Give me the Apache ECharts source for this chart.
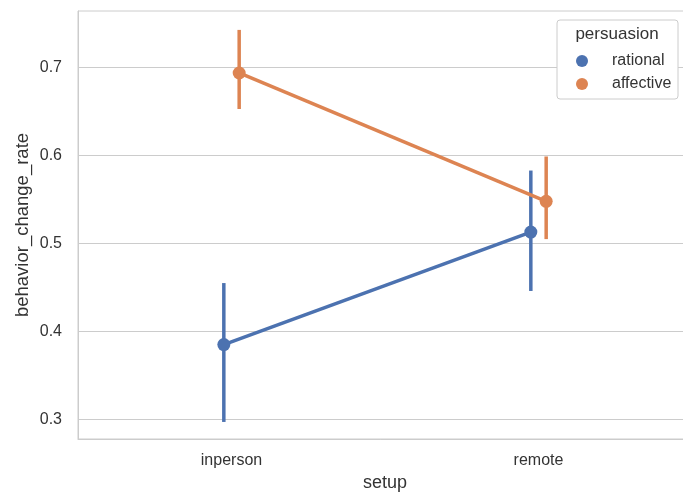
<!DOCTYPE html>
<html>
<head>
<meta charset="utf-8">
<script src="https://cdn.jsdelivr.net/npm/echarts@6/dist/echarts.min.js"></script>
<style>html,body{margin:0;padding:0;background:#fff}#c{width:683px;height:492px}</style>
</head>
<body>
<div id="c"></div>
<script>
const categories = ['inperson', 'remote'];
const hueNames = ['rational', 'affective'];
const rationalMean = [0.385, 0.513];
const rationalLow = [0.297, 0.446];
const rationalHigh = [0.455, 0.583];
const affectiveMean = [0.694, 0.548];
const affectiveLow = [0.653, 0.505];
const affectiveHigh = [0.743, 0.599];
const yTicks = [0.3, 0.4, 0.5, 0.6, 0.7];

const colors = ['#4c72b0', '#dd8452'];
const dodge = [-0.025, 0.025];
const font = 'Liberation Sans';
const textColor = '#333333';

function lineData(mean, off) { return categories.map((c, i) => [i + off, mean[i]]); }
function ciData(lo, hi, off) { return categories.map((c, i) => [i + off, lo[i], hi[i]]); }
function ciSeries(name, lo, hi, off, color) {
  return {
    name: name, type: 'custom', z: 2,
    data: ciData(lo, hi, off),
    encode: { x: 0, y: [1, 2] },
    renderItem: function (params, api) {
      const p1 = api.coord([api.value(0), api.value(1)]);
      const p2 = api.coord([api.value(0), api.value(2)]);
      return { type: 'line', shape: { x1: p1[0], y1: p1[1], x2: p2[0], y2: p2[1] },
        style: { stroke: color, lineWidth: 3.5 } };
    },
    silent: true
  };
}
function lineSeries(name, mean, off, color) {
  return {
    name: name, type: 'line', z: 3,
    data: lineData(mean, off),
    symbol: 'circle', symbolSize: 13,
    itemStyle: { color: color },
    lineStyle: { color: color, width: 3.5 },
    animation: false
  };
}

const chart = echarts.init(document.getElementById('c'), null, { renderer: 'canvas' });
chart.setOption({
  animation: false,
  backgroundColor: '#ffffff',
  textStyle: { fontFamily: font },
  grid: { left: 78, top: 11, width: 614, height: 428, containLabel: false, outerBoundsMode: 'none',
    show: true, borderColor: '#cccccc', borderWidth: 1 },
  xAxis: {
    type: 'value', min: -0.5, max: 1.5, interval: 0.5,
    name: 'setup', nameLocation: 'middle', nameGap: 35, nameMoveOverlap: false,
    nameTextStyle: { fontSize: 18, color: textColor, fontFamily: font },
    axisLine: { show: true, onZero: false, lineStyle: { color: '#cccccc', width: 1 } },
    axisTick: { show: false },
    splitLine: { show: false },
    axisLabel: {
      fontSize: 16, color: textColor, fontFamily: font, margin: 14,
      showMinLabel: true, showMaxLabel: true,
      formatter: function (v) {
        const i = Math.round(v);
        return (Math.abs(v - i) < 1e-6 && i >= 0 && i < categories.length) ? categories[i] : '';
      }
    }
  },
  yAxis: {
    type: 'value', min: 0.2776, max: 0.7645,
    name: 'behavior_change_rate', nameLocation: 'middle', nameGap: 46, nameMoveOverlap: false,
    nameTextStyle: { fontSize: 18.5, color: textColor, fontFamily: font },
    axisLine: { show: true, onZero: false, lineStyle: { color: '#cccccc', width: 1 } },
    axisTick: { show: false, customValues: yTicks },
    splitLine: { show: true, lineStyle: { color: '#cccccc', width: 1 } },
    axisLabel: { fontSize: 16, color: textColor, fontFamily: font, margin: 16,
      customValues: yTicks, formatter: function (v) { return v.toFixed(1); } }
  },
  legend: {
    data: hueNames, orient: 'vertical', left: 571, top: 48, z: 20,
    icon: 'circle', itemWidth: 50, itemHeight: 12, itemGap: 7,
    textStyle: { fontSize: 16, color: textColor, fontFamily: font },
    selectedMode: false
  },
  graphic: [
    { type: 'rect', z: 1, shape: { x: 557, y: 20, width: 121, height: 79, r: 3 },
      style: { fill: '#ffffff', stroke: '#cccccc', lineWidth: 1 } },
    { type: 'text', x: 617, y: 34, z: 30,
      style: { text: 'persuasion', fontSize: 17, fill: textColor, fontFamily: font,
        align: 'center', verticalAlign: 'middle' } }
  ],
  series: [
    ciSeries('rational_ci', rationalLow, rationalHigh, dodge[0], colors[0]),
    ciSeries('affective_ci', affectiveLow, affectiveHigh, dodge[1], colors[1]),
    lineSeries(hueNames[0], rationalMean, dodge[0], colors[0]),
    lineSeries(hueNames[1], affectiveMean, dodge[1], colors[1])
  ]
});
</script>
</body>
</html>
